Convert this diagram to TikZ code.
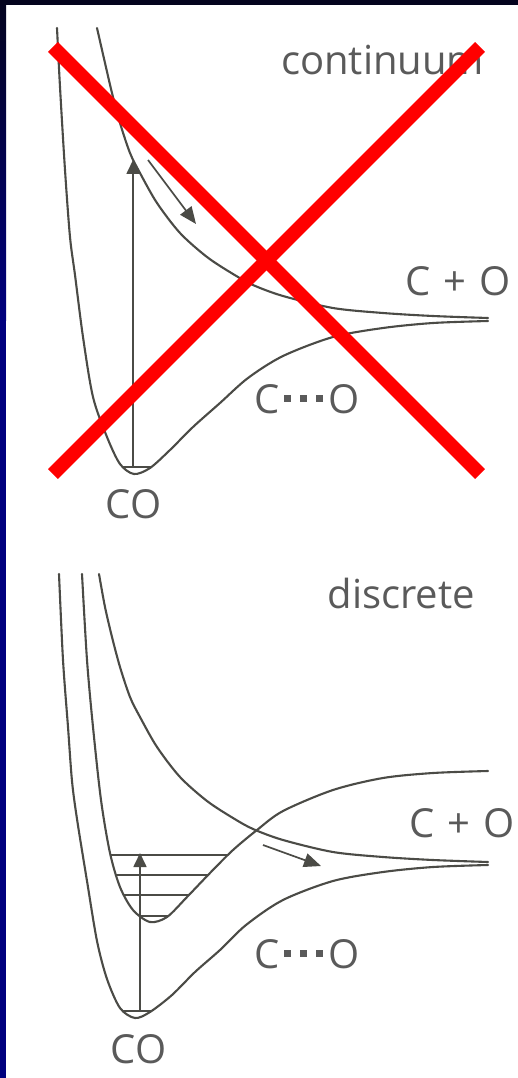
\documentclass[tikz,border=0pt]{standalone}
\usepackage{fontspec}
\setmainfont{Open Sans}
\usetikzlibrary{arrows.meta}
\definecolor{ink}{HTML}{4B4B46}
\definecolor{txt}{HTML}{5A5A5A}
\definecolor{navy}{HTML}{00007E}
\definecolor{navydark}{HTML}{04041E}
\definecolor{xred}{HTML}{FF0000}
\newcommand{\sqdot}{\raisebox{11.5pt}{\rule{6.5pt}{6.5pt}}}
\begin{document}
\begin{tikzpicture}[x=1pt,y=-1pt,
  curve/.style={draw=ink, line width=2.1pt, line join=round, line cap=round},
  levelline/.style={draw=ink, line width=1.7pt},
  arr/.style={draw=ink, line width=1.7pt, -{Triangle[length=14pt,width=13pt]}},
  darr/.style={draw=ink, line width=1.7pt, -{Triangle[length=17pt,width=14pt]}},
  lab/.style={text=txt, inner sep=0pt, anchor=base west, font=\fontsize{40}{48}\selectfont},
  cross/.style={draw=xred, line width=14pt}]
\useasboundingbox (0,0) rectangle (518,1078);
% background and frame
\fill[white] (0,0) rectangle (518,1078);
\fill[navy] (0,0) rectangle (6,1078);
\shade[top color=navydark, bottom color=navy] (0,0) rectangle (6,320);
\fill[navydark] (0,0) rectangle (518,5);

% ================= TOP PANEL =================
% ground state C...O (top)
\draw[curve] plot[smooth] coordinates {(57,28) (60,87) (65,170) (70,237) (75,275) (83,337) (93,397) (107,437) (120,464) (134,474) (150,468) (170,450) (193,427) (220,403) (248,378) (283,356) (333,337) (383,328) (433,323) (488,321)};
% repulsive C + O (top)
\draw[curve] plot[smooth] coordinates {(97,28) (105,63) (112,93) (120,123) (130,153) (140,173) (157,203) (180,233) (207,257) (233,274) (253,285) (283,296) (333,308) (383,313) (433,316) (488,318)};
% ground level (top)
\begin{scope}
  \clip plot[smooth] coordinates {(57,28) (60,87) (65,170) (70,237) (75,275) (83,337) (93,397) (107,437) (120,464) (134,474) (150,468) (170,450) (193,427) (220,403) (248,378) (283,356) (333,337) (383,328) (433,323) (488,321)} -- (488,20) -- cycle;
  \draw[levelline] (100,467) -- (180,467);
\end{scope}
\coordinate (tv0) at (133,467);
\coordinate (tv1) at (133,160);
\coordinate (td0) at (148,160);
\coordinate (td1) at (196,224);
\draw[arr] (tv0) -- (tv1);
\draw[darr] (td0) -- (td1);
\node[lab] (tcont) at (281,75) {continuum};
\node[lab] (tcpo) at (405,295) {C\kern13pt+\kern13pt O};
\node[lab] (tcdo) at (254.5,413) {C\kern4.3pt\sqdot\kern9.5pt\sqdot\kern9.5pt\sqdot\kern5.6pt O};
\node[lab] (tco) at (105.5,518) {CO};
% red cross
\coordinate (x1a) at (53,47);
\coordinate (x1b) at (480,474);
\coordinate (x2a) at (53,474);
\coordinate (x2b) at (480,47);
\draw[cross] (x1a) -- (x1b);
\draw[cross] (x2a) -- (x2b);

% ================= BOTTOM PANEL =================
% ground state C...O (bottom)
\draw[curve] plot[smooth] coordinates {(59,574) (63,660) (68,727) (72,781) (77,819) (87,881) (97,941) (107,979) (120,1008) (135,1018) (150,1012) (172,995) (195,972) (220,950) (246,925) (283,900) (333,881) (383,872) (433,867) (488,865)};
% bound excited state (bottom)
\draw[curve] plot[smooth] coordinates {(82,574) (87,660) (93,727) (101,800) (110,853) (120,887) (133,910) (150,922) (167,917) (187,897) (210,873) (233,850) (257,830) (283,811) (333,790) (383,778) (433,773) (488,771)};
% repulsive C + O (bottom)
\draw[curve] plot[smooth] coordinates {(99,574) (105,607) (112,637) (120,667) (130,697) (140,717) (157,747) (180,777) (207,801) (233,818) (253,829) (283,840) (333,852) (383,857) (433,860) (488,862)};
% vibrational levels
\begin{scope}
  \clip plot[smooth] coordinates {(82,574) (87,660) (93,727) (101,800) (110,853) (120,887) (133,910) (150,922) (167,917) (187,897) (210,873) (233,850) (257,830) (283,811) (333,790) (383,778) (433,773) (488,771)} -- (488,560) -- cycle;
  \draw[levelline] (90,855) -- (250,855);
  \draw[levelline] (90,875) -- (250,875);
  \draw[levelline] (90,895) -- (250,895);
  \draw[levelline] (90,916) -- (250,916);
\end{scope}
\begin{scope}
  \clip plot[smooth] coordinates {(59,574) (63,660) (68,727) (72,781) (77,819) (87,881) (97,941) (107,979) (120,1008) (135,1018) (150,1012) (172,995) (195,972) (220,950) (246,925) (283,900) (333,881) (383,872) (433,867) (488,865)} -- (488,560) -- cycle;
  \draw[levelline] (100,1011) -- (180,1011);
\end{scope}
\coordinate (bv0) at (140,1011);
\coordinate (bv1) at (140,853);
\coordinate (bd0) at (263,845);
\coordinate (bd1) at (321,866);
\draw[arr] (bv0) -- (bv1);
\draw[darr] (bd0) -- (bd1);
\node[lab] (bdisc) at (327.5,608) {discrete};
\node[lab] (bcpo) at (409,837) {C\kern13pt+\kern13pt O};
\node[lab] (bcdo) at (254.5,968) {C\kern4.3pt\sqdot\kern9.5pt\sqdot\kern9.5pt\sqdot\kern5.6pt O};
\node[lab] (bco) at (110.5,1063) {CO};
\end{tikzpicture}
\end{document}
